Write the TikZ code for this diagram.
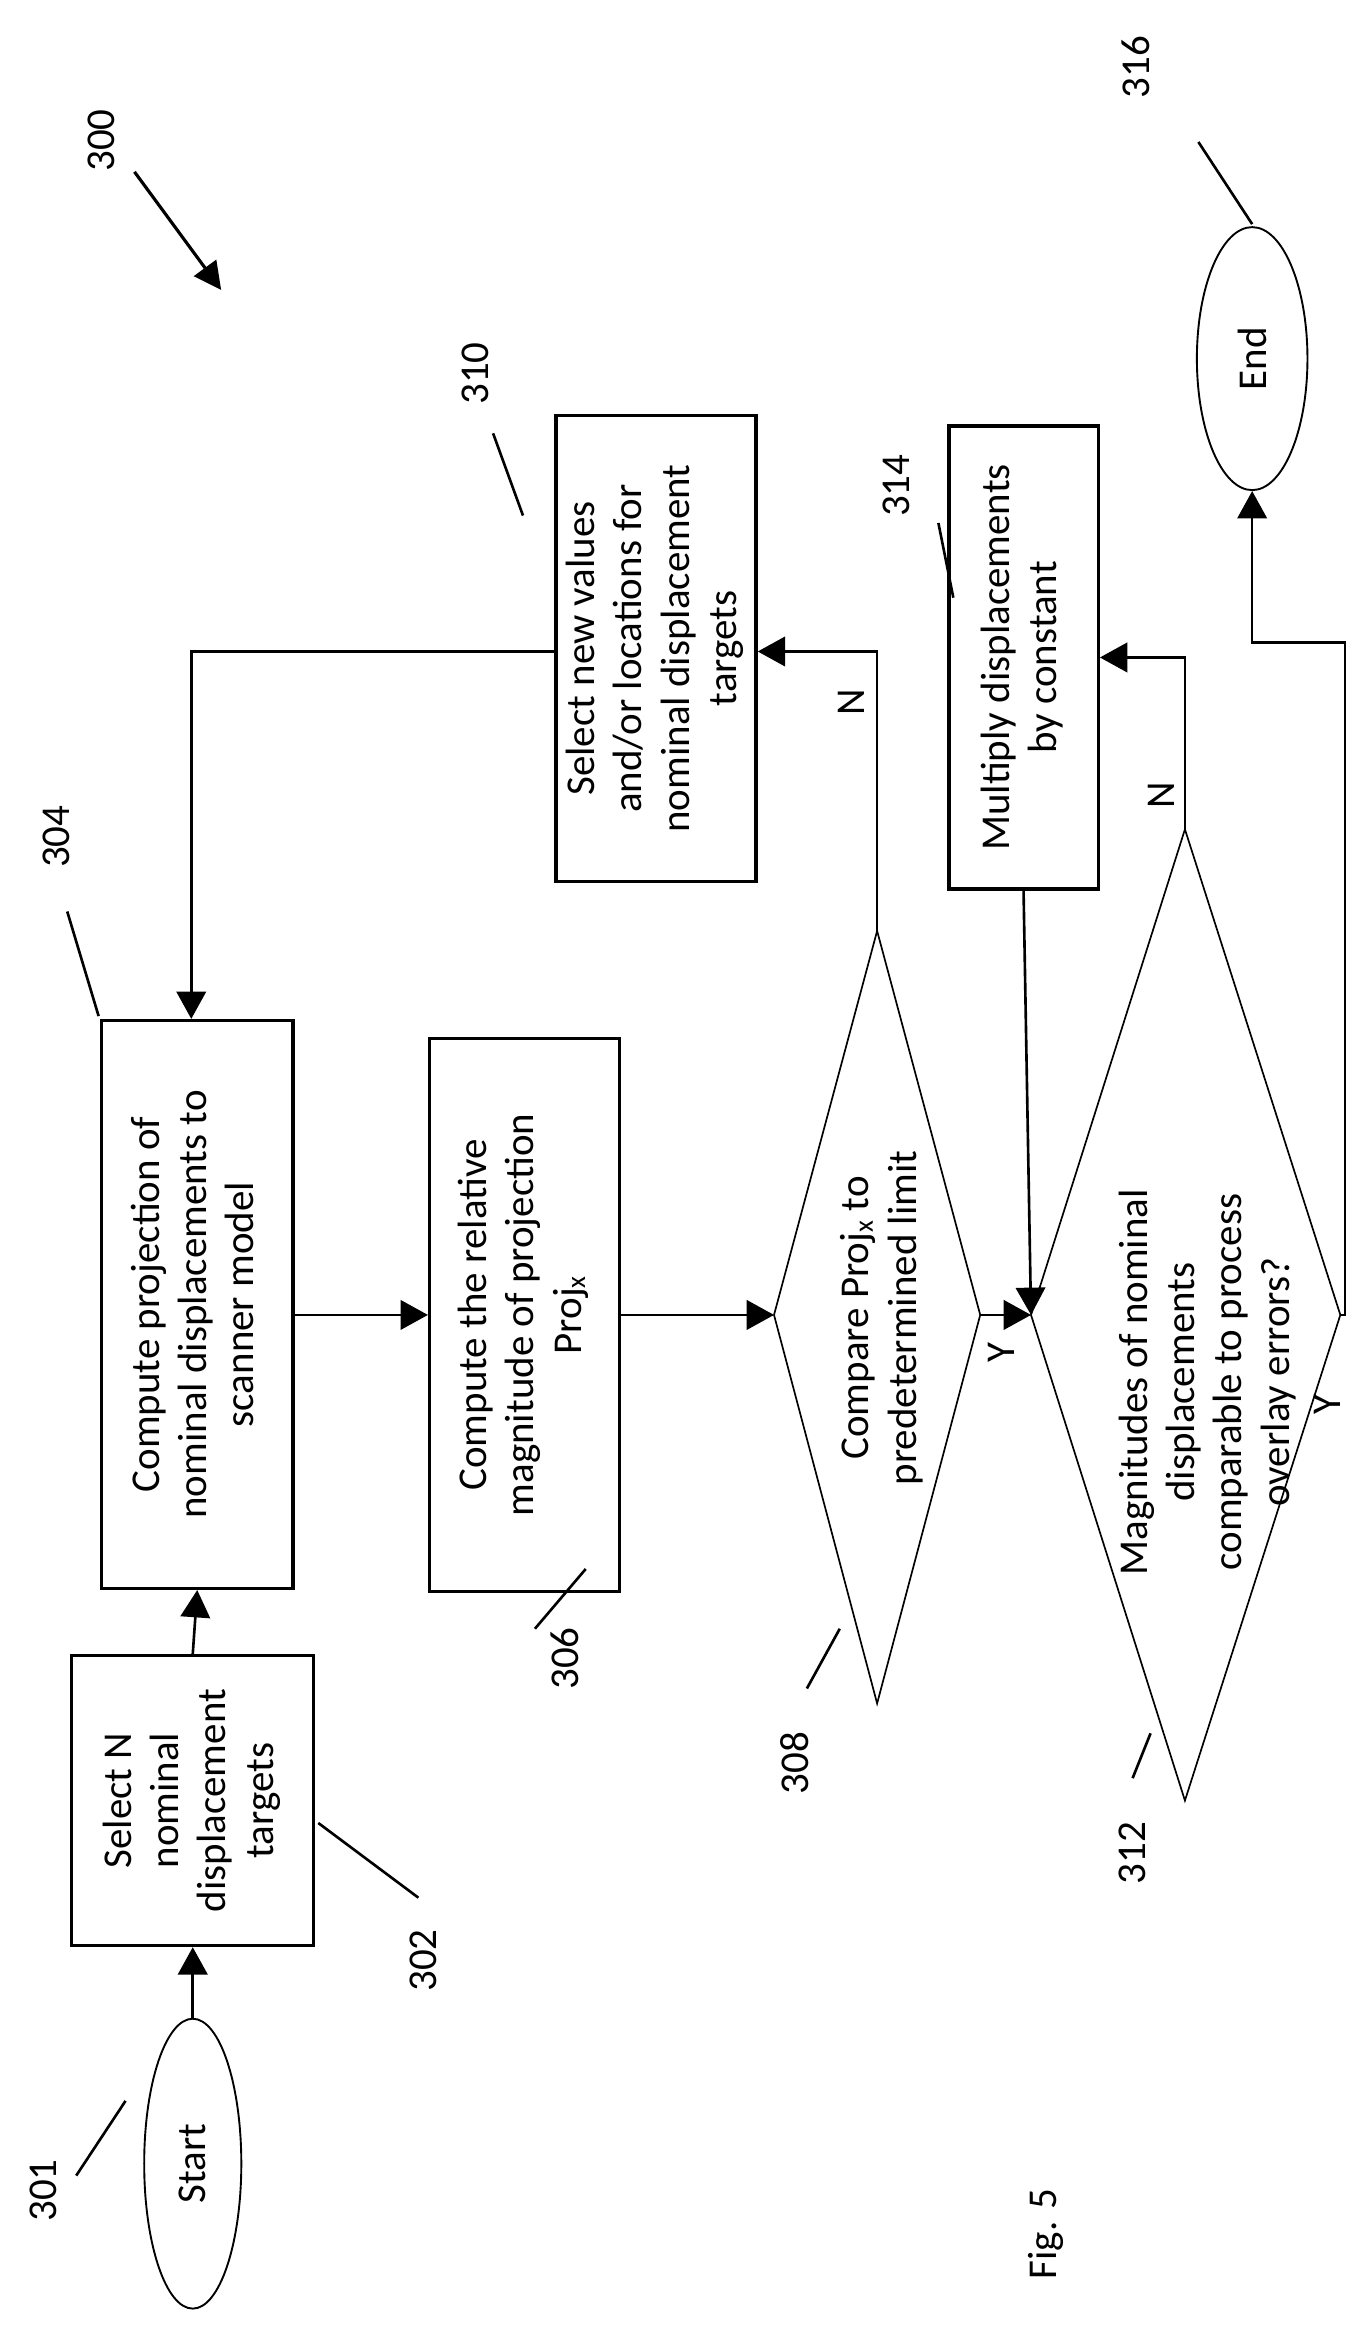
\documentclass[tikz,border=0pt]{standalone}
\usepackage{fontspec}
\setmainfont{Carlito}
\usetikzlibrary{arrows.meta,shapes.geometric}
\newcommand{\rt}[1]{\rotatebox{90}{\begin{tabular}{@{}c@{}}#1\end{tabular}}}
\begin{document}
\begin{tikzpicture}[x=0.5mm,y=-0.5mm,
  every node/.style={font=\fontsize{39}{45}\selectfont},
  box/.style={draw,line width=3.2pt,inner sep=0pt},
  term/.style={draw,ellipse,line width=1.8pt,inner sep=0pt},
  arr/.style={line width=2.5pt,-{Triangle[length=26pt,width=28pt]}},
  ln/.style={line width=2.5pt},
  lead/.style={line width=2.5pt}]
\useasboundingbox (0,0) rectangle (918,1560);
% nodes
\node[term,minimum width=32.5mm,minimum height=97mm] (start) at (129,1448) {\rotatebox{90}{Start}};
\node[box,minimum width=81mm,minimum height=97mm] (n302) at (129,1205) {\rt{Select N\\nominal\\displacement\\targets}};
\node[box,minimum width=64mm,minimum height=190mm] (n304) at (132,873) {\rt{Compute projection of\\nominal displacements to\\scanner model}};
\node[box,minimum width=63.5mm,minimum height=185mm] (n306) at (351,880) {\rt{Compute the relative\\magnitude of projection\\Proj\textsubscript{\fontsize{26}{30}\selectfont x}}};
\node[box,minimum width=67mm,minimum height=156mm] (n310) at (439,434) {\rt{Select new values\\and/or locations for\\nominal displacement\\targets}};
\node[box,minimum width=50mm,minimum height=155mm] (n314) at (685,440) {\rt{Multiply displacements\\by constant}};
\node[term,minimum width=37mm,minimum height=88mm] (end) at (838,240) {\rotatebox{90}{End}};
% diamonds
\coordinate (d8l) at (518,880); \coordinate (d8r) at (656,880);
\coordinate (d8t) at (587,623); \coordinate (d8b) at (587,1140);
\draw[line width=1.6pt] (d8l)--(d8t)--(d8r)--(d8b)--cycle;
\node (t308) at (591,882) {\rt{Compare Proj\textsubscript{\fontsize{26}{30}\selectfont x} to\\predetermined limit}};
\coordinate (d2l) at (690,880); \coordinate (d2r) at (897,880);
\coordinate (d2t) at (793,555); \coordinate (d2b) at (793,1205);
\draw[line width=1.6pt] (d2l)--(d2t)--(d2r)--(d2b)--cycle;
\node (t312) at (809,925) {\rt{Magnitudes of nominal\\displacements\\comparable to process\\overlay errors?}};
% connectors
\draw[arr] (start.north) -- (n302.south);
\draw[arr] (n302.north) -- (n304.south);
\coordinate (c0) at (0,880);
\draw[arr] (n304.east |- c0) -- (n306.west |- c0);
\draw[arr] (n306.east |- c0) -- (d8l);
\coordinate (c1) at (587,436);
\draw[arr] (d8t) -- (c1) -- (n310.east |- c1);
\coordinate (c2) at (128,436);
\draw[arr] (n310.west |- c2) -- (c2) -- (n304.north -| c2);
\draw[arr] (d8r) -- (d2l);
\draw[arr] (n314.south) -- (d2l);
\coordinate (c3) at (793,440);
\draw[arr] (d2t) -- (c3) -- (n314.east |- c3);
\coordinate (c4) at (900,880); \coordinate (c5) at (900,430); \coordinate (c6) at (838,430);
\draw[arr] (d2r) -- (c4) -- (c5) -- (c6) -- (end.south);
% branch labels
\node (lN1) at (570,470) {\rotatebox{90}{N}};
\node (lY1) at (670,905) {\rotatebox{90}{Y}};
\node (lN2) at (777,532) {\rotatebox{90}{N}};
\node (lY2) at (888,940) {\rotatebox{90}{Y}};
% reference numerals
\node (r300) at (68,94) {\rotatebox{90}{300}};
\coordinate (a300s) at (90,115); \coordinate (a300e) at (148,194);
\draw[line width=3pt,-{Triangle[length=26pt,width=26pt]}] (a300s) -- (a300e);
\node (r316) at (760,45) {\rotatebox{90}{316}};
\draw[lead] (802,95) -- (838,150);
\node (r314) at (600,325) {\rotatebox{90}{314}};
\draw[lead] (628,350) -- (638,400);
\node (r310) at (318,250) {\rotatebox{90}{310}};
\draw[lead] (330,290) -- (350,345);
\node (r304) at (38,560) {\rotatebox{90}{304}};
\draw[lead] (45,610) -- (66,680);
\node (r306) at (378,1110) {\rotatebox{90}{306}};
\draw[lead] (358,1090) -- (392,1050);
\node (r308) at (532,1180) {\rotatebox{90}{308}};
\draw[lead] (540,1130) -- (562,1090);
\node (r312) at (758,1240) {\rotatebox{90}{312}};
\draw[lead] (758,1190) -- (770,1160);
\node (r302) at (283,1312) {\rotatebox{90}{302}};
\draw[lead] (280,1270) -- (213,1220);
\node (r301) at (29,1466) {\rotatebox{90}{301}};
\draw[lead] (51,1456) -- (84,1406);
\node (fig) at (700,1495) {\rotatebox{90}{Fig. 5}};
\end{tikzpicture}
\end{document}
